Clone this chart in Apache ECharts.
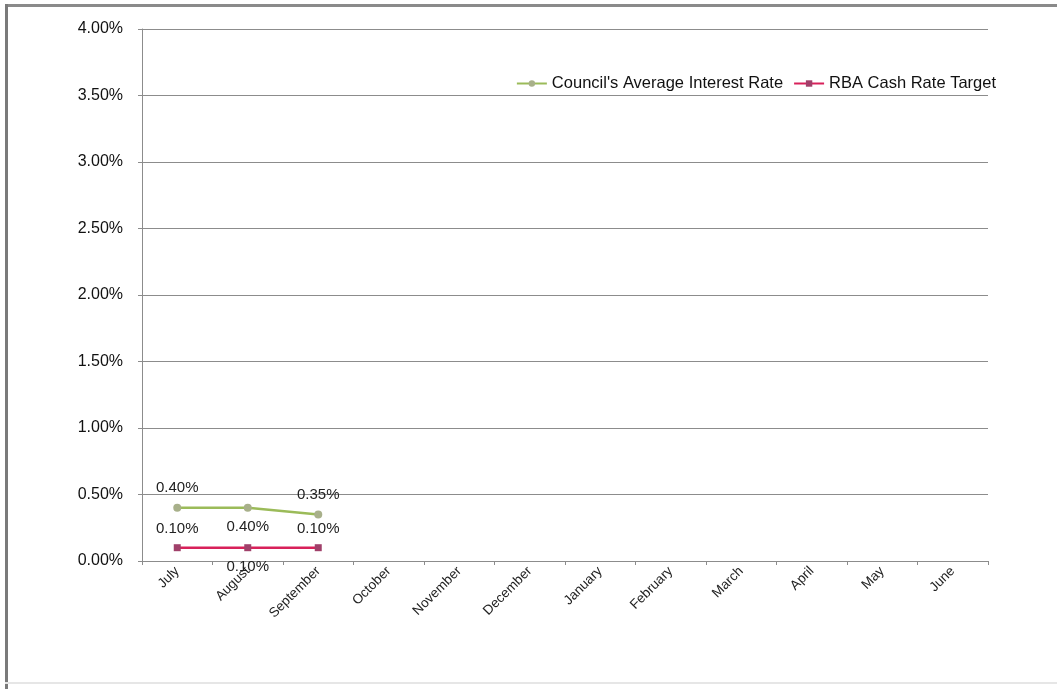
<!DOCTYPE html>
<html><head><meta charset="utf-8">
<script src="https://cdn.jsdelivr.net/npm/echarts@6/dist/echarts.min.js"></script>
<style>html,body{margin:0;padding:0;background:#fff}#c{width:1057px;height:689px}</style>
</head><body><div id="c"></div>
<script>
const categories = ['July','August','September','October','November','December','January','February','March','April','May','June'];
const councilRate = [0.40, 0.40, 0.35];
const rbaRate = [0.10, 0.10, 0.10];
const councilLabelPos = ['top','bottom','top'];
const rbaLabelPos = ['top','bottom','top'];

const chart = echarts.init(document.getElementById('c'));
function mk(vals, pos){ return vals.map((v,i)=>({value:v, label:{position:pos[i]}})); }
const F = 'Liberation Sans, Arial';
chart.setOption({
  animation:false,
  backgroundColor:'#fff',
  graphic:[
    {type:'rect', shape:{x:5,y:4,width:1060,height:3}, style:{fill:'#8a8a8a'}},
    {type:'rect', shape:{x:5,y:4,width:3,height:690}, style:{fill:'#7a7a7a'}},
    {type:'rect', shape:{x:5,y:682,width:1060,height:2}, style:{fill:'#e6e6e6'}}
  ],
  grid:{left:142, right:69, top:29, bottom:128, containLabel:false},
  legend:{
    top:70, right:56, itemGap:10, itemWidth:30, itemHeight:8,
    textStyle:{fontFamily:F, fontSize:16.5, color:'#111'},
    data:["Council's Average Interest Rate","RBA Cash Rate Target"]
  },
  xAxis:{
    type:'category', data:categories, boundaryGap:true,
    axisLine:{lineStyle:{color:'#8c8c8c'}},
    axisTick:{show:true, alignWithLabel:false, length:4, lineStyle:{color:'#8c8c8c'}},
    axisLabel:{rotate:45, interval:0, fontFamily:F, fontSize:13.5, color:'#222', margin:8}
  },
  yAxis:{
    type:'value', min:0, max:4, interval:0.5,
    axisLine:{show:true, lineStyle:{color:'#8c8c8c'}},
    axisTick:{show:true, length:4, lineStyle:{color:'#8c8c8c'}},
    splitLine:{lineStyle:{color:'#8c8c8c', width:1}},
    axisLabel:{formatter:v=>v.toFixed(2)+'%', fontFamily:F, fontSize:16, color:'#111', margin:19}
  },
  series:[
    {name:"Council's Average Interest Rate", type:'line', data:mk(councilRate,councilLabelPos),
     color:'#9BBB59', symbol:'circle', symbolSize:8,
     lineStyle:{width:2.5, color:'#9BBB59'}, itemStyle:{color:'#A8B08A'},
     label:{show:true, formatter:p=>p.value.toFixed(2)+'%', fontFamily:F, fontSize:15, color:'#222', distance:8}},
    {name:'RBA Cash Rate Target', type:'line', data:mk(rbaRate,rbaLabelPos),
     color:'#D8215A', symbol:'rect', symbolSize:7,
     lineStyle:{width:2.5, color:'#D8215A'}, itemStyle:{color:'#A0406A'},
     label:{show:true, formatter:p=>p.value.toFixed(2)+'%', fontFamily:F, fontSize:15, color:'#222', distance:8}}
  ]
});
</script></body></html>
